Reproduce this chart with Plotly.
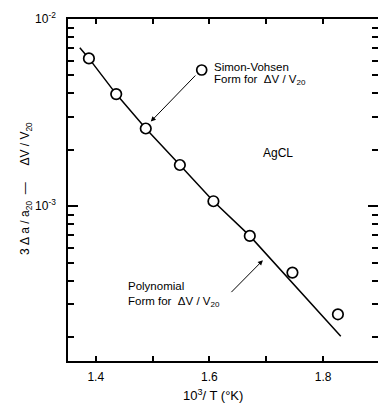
import plotly.graph_objects as go

# ---- data ----
inv_T = [1.388, 1.436, 1.488, 1.548, 1.607, 1.671, 1.746, 1.826]          # 10^3/T (1/K)
strain = [6.16e-3, 3.97e-3, 2.60e-3, 1.66e-3, 1.063e-3, 6.94e-4, 4.42e-4, 2.645e-4]

# fitted curve (Simon-Vohsen / polynomial form)
fit_x = [1.372, 1.388, 1.436, 1.488, 1.548, 1.607, 1.671, 1.831]
fit_y = [7.02e-3, 6.16e-3, 3.97e-3, 2.60e-3, 1.66e-3, 1.063e-3, 6.94e-4, 2.02e-4]

x_ticks = [1.4, 1.5, 1.6, 1.7, 1.8]
x_ticktext = ["1.4", "", "1.6", "", "1.8"]
y_major = [1e-3, 1e-2]
y_major_text = ["10<sup>-3</sup>", "10<sup>-2</sup>"]
y_minor = [m * 1e-4 for m in range(2, 10)] + [m * 1e-3 for m in range(2, 10)]

FONT = "Liberation Sans"
X_RANGE = [1.3512, 1.8965]
Y_RANGE = [-3.827, -2.0]

fig = go.Figure()

fig.add_trace(go.Scatter(
    x=fit_x, y=fit_y, mode="lines",
    line=dict(color="black", width=1.5),
    showlegend=False, hoverinfo="skip"))

fig.add_trace(go.Scatter(
    x=inv_T, y=strain, mode="markers",
    marker=dict(symbol="circle", size=10.5, color="white",
                line=dict(color="black", width=1.7)),
    showlegend=False))

# invisible trace to carry the right-hand tick axis
fig.add_trace(go.Scatter(
    x=inv_T, y=strain, yaxis="y2", mode="markers",
    marker=dict(opacity=0), showlegend=False, hoverinfo="skip"))

axis_common = dict(showgrid=False, zeroline=False, automargin=False)

fig.update_layout(
    width=378, height=408,
    margin=dict(l=68, r=0, t=19, b=47),
    paper_bgcolor="white", plot_bgcolor="white",
    font=dict(family=FONT, size=11, color="black"),
    xaxis=dict(
        range=X_RANGE, **axis_common,
        showline=True, linecolor="black", linewidth=1.5, mirror="ticks",
        ticks="inside", ticklen=5, tickwidth=1.5, tickcolor="black",
        tickvals=x_ticks, ticktext=x_ticktext,
        tickfont=dict(family=FONT, size=12),
        ticklabelstandoff=4,
    ),
    yaxis=dict(
        type="log", range=Y_RANGE, **axis_common,
        showline=True, linecolor="black", linewidth=1.5, mirror=False,
        ticks="inside", ticklen=10, tickwidth=1.5, tickcolor="black",
        tickvals=y_major, ticktext=y_major_text,
        tickfont=dict(family=FONT, size=12),
        ticklabelstandoff=8,
        minor=dict(ticks="inside", ticklen=6, tickwidth=1.5, tickcolor="black",
                   tickvals=y_minor, showgrid=False),
    ),
    yaxis2=dict(
        type="log", range=Y_RANGE, overlaying="y", side="right", **axis_common,
        showline=False, showticklabels=False,
        ticks="inside", ticklen=10, tickwidth=1.5, tickcolor="black",
        tickvals=y_major,
        minor=dict(ticks="inside", ticklen=6, tickwidth=1.5, tickcolor="black",
                   tickvals=y_minor, showgrid=False),
    ),
)

NB = "\u00a0"
annotations = [
    # axis titles
    dict(text="10<sup>3</sup>/ T (°K)", xref="paper", yref="paper",
         x=(213 - 68) / 310, y=(361 - 395) / 342, showarrow=False,
         font=dict(size=13), xanchor="center", yanchor="middle"),
    dict(text=f"3{NB}Δ{NB}a{NB}/{NB}a<sub>20</sub>{NB}{NB}—{NB}{NB}{NB}{NB}{NB}ΔV{NB}/{NB}V<sub>20</sub>",
         xref="paper", yref="paper", textangle=-90,
         x=(26 - 68) / 310, y=(361 - 188) / 342, showarrow=False,
         font=dict(size=12), xanchor="center", yanchor="middle"),
    # labels
    dict(text="Simon-Vohsen", xref="paper", yref="paper",
         x=(212 - 68) / 310, y=(361 - 67) / 342, showarrow=False,
         font=dict(size=11.5), xanchor="left", yanchor="middle"),
    dict(text=f"Form for{NB}{NB}ΔV{NB}/{NB}V<sub>20</sub>", xref="paper", yref="paper",
         x=(212 - 68) / 310, y=(361 - 80) / 342, showarrow=False,
         font=dict(size=11.5), xanchor="left", yanchor="middle"),
    dict(text="AgCL", xref="paper", yref="paper",
         x=(278 - 68) / 310, y=(361 - 153) / 342, showarrow=False,
         font=dict(size=12), xanchor="center", yanchor="middle"),
    dict(text="Polynomial", xref="paper", yref="paper",
         x=(126 - 68) / 310, y=(361 - 286) / 342, showarrow=False,
         font=dict(size=11.5), xanchor="left", yanchor="middle"),
    dict(text=f"Form for{NB}{NB}ΔV{NB}/{NB}V<sub>20</sub>", xref="paper", yref="paper",
         x=(126 - 68) / 310, y=(361 - 302) / 342, showarrow=False,
         font=dict(size=11.5), xanchor="left", yanchor="middle"),
    # arrows (log10 coordinates on the log axis)
    dict(text="", x=1.4968, y=-2.548, ax=1.5778, ay=-2.294,
         xref="x", yref="y", axref="x", ayref="y",
         showarrow=True, arrowhead=2, arrowsize=1, arrowwidth=1, arrowcolor="black"),
    dict(text="", x=1.694, y=-3.289, ax=1.636, ay=-3.467,
         xref="x", yref="y", axref="x", ayref="y",
         showarrow=True, arrowhead=2, arrowsize=1, arrowwidth=1, arrowcolor="black"),
]
fig.update_layout(annotations=annotations)

# key symbol next to the Simon-Vohsen label
fig.add_shape(type="circle", xref="paper", yref="paper",
              xsizemode="pixel", ysizemode="pixel",
              xanchor=(201.7 - 68) / 310, yanchor=(361 - 70) / 342,
              x0=-5, x1=5, y0=-5, y1=5,
              line=dict(color="black", width=1.7), fillcolor="white")

# remove the browser's default 8px page margin so the figure sits at (0, 0)
fig.write_html("out.html",
               config={"displayModeBar": False},
               post_script="document.body.style.margin='0';document.body.style.padding='0';")
